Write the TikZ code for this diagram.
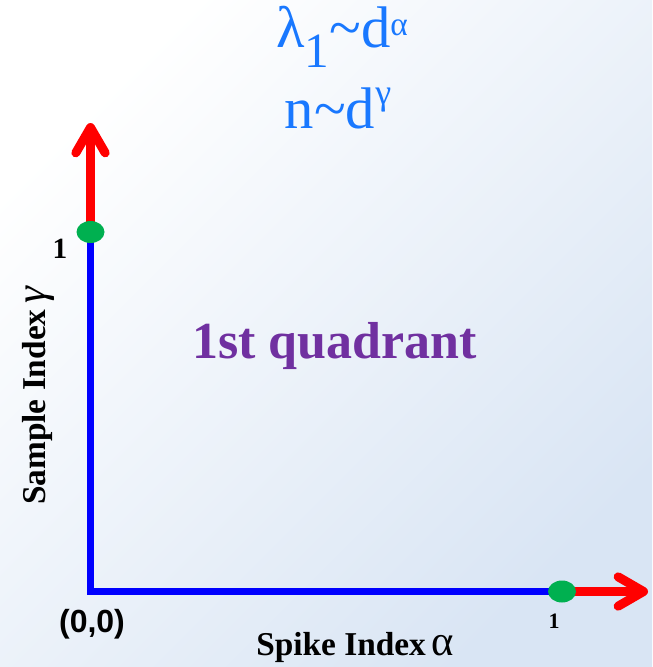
\documentclass[tikz,border=0pt]{standalone}
\usepackage{fontspec}
\setmainfont{Liberation Serif}
\setsansfont{Liberation Sans}
\usepackage{tikz}
\usetikzlibrary{arrows.meta,positioning,shapes.geometric}
\definecolor{axblue}{RGB}{0,0,255}
\definecolor{axred}{RGB}{255,0,0}
\definecolor{dotgreen}{RGB}{0,176,80}
\definecolor{relblue}{RGB}{25,120,255}
\definecolor{quadpurple}{RGB}{112,48,160}
\definecolor{bgblue}{RGB}{217,229,244}

\begin{document}
\begin{tikzpicture}[x=0.75pt,y=-0.75pt,
  blueax/.style={draw=axblue,line width=5.6pt,line join=miter},
  redax/.style={draw=axred,line width=6.75pt,
    -{Straight Barb[length=19pt,width=22pt,round]}},
  dot/.style={ellipse,fill=dotgreen,inner sep=0pt,
    minimum width=21pt,minimum height=16.5pt},
  axlbl/.style={font=\fontsize{25}{28}\selectfont\bfseries,inner sep=0pt},
  tick/.style={inner sep=0pt,anchor=base}
]
\shade[top color=white,bottom color=bgblue,shading angle=45]
  (0,0) rectangle (652,667);
\coordinate (o) at (90.5,591.5);
\coordinate (yone) at (90.5,232);
\coordinate (xone) at (562,591.5);
\coordinate (ytip) at (90.5,123);
\coordinate (xtip) at (648,591.5);
% axes
\draw[redax] (yone) -- (ytip);
\draw[redax] (xone) -- (xtip);
\draw[blueax] (yone) -- (o) -- (xone);
\node[dot] (ydot) at (yone) {};
\node[dot] (xdot) at (xone) {};
% texts
\node[font=\fontsize{44}{48}\selectfont,text=relblue,anchor=base,inner sep=0pt]
  (lam) at (342,48)
  {λ\lower15pt\hbox{\fontsize{37}{40}\selectfont 1}\textasciitilde d\raise9pt\hbox{\fontsize{25}{28}\selectfont α}};
\node[font=\fontsize{44}{48}\selectfont,text=relblue,anchor=base,inner sep=0pt]
  (nd) at (338,128)
  {n\textasciitilde d\raise18pt\hbox{\fontsize{27}{30}\selectfont γ}};
\node[font=\fontsize{39}{44}\selectfont\bfseries,text=quadpurple,anchor=base,inner sep=0pt]
  (quad) at (334.5,358) {1st quadrant};
\node[axlbl,rotate=90,anchor=base] (ylbl) at (45,396)
  {Sample Index\,{\mdseries\itshape\fontsize{32}{32}\selectfont γ}};
\node[axlbl,anchor=base] (xlbl) at (355,655)
  {Spike Index\,{\mdseries\fontsize{32}{32}\selectfont α}};
\node[tick,font=\fontsize{22}{24}\selectfont\bfseries] (ytick) at (60,258) {1};
\node[tick,font=\fontsize{16.5}{18}\selectfont\bfseries] (xtick) at (554,628) {1};
\node[tick,font=\sffamily\bfseries\fontsize{24}{28}\selectfont] (orig) at (92,632) {(0,0)};
\end{tikzpicture}
\end{document}
